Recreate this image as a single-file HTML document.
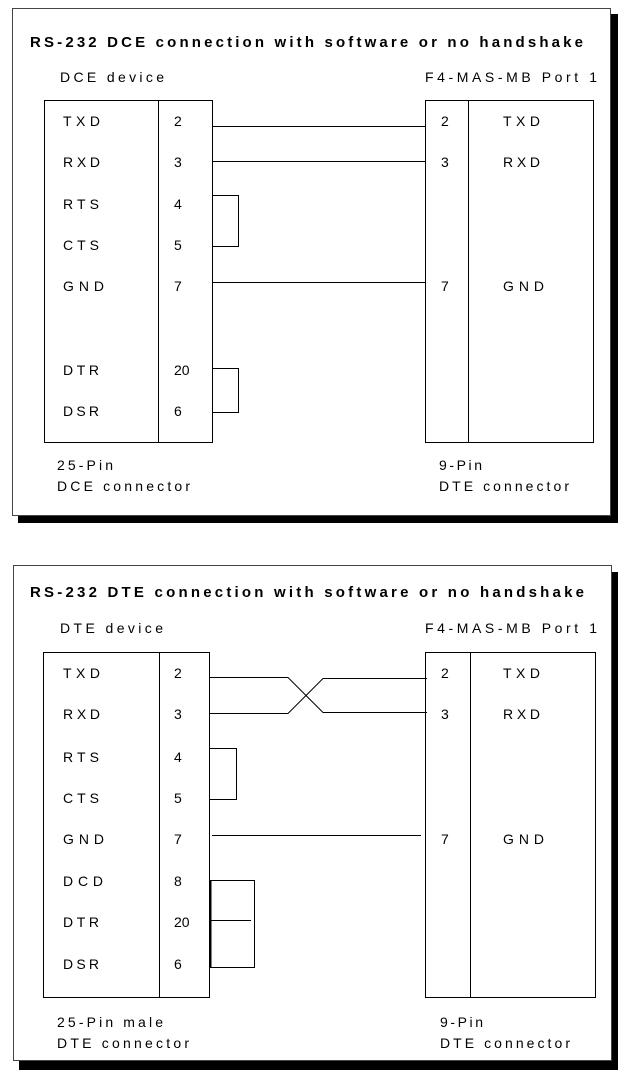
<!DOCTYPE html>
<html><head><meta charset="utf-8"><style>
html,body{margin:0;padding:0;background:#fff}
svg{display:block}
text{font-family:"Liberation Sans",Arial,sans-serif;font-size:14px;fill:#000}
.t{font-weight:bold;font-size:15px}
</style></head><body>
<svg width="623" height="1072" viewBox="0 0 623 1072" xmlns="http://www.w3.org/2000/svg">
<g fill="none" stroke="#000">
<rect x="18" y="14" width="600" height="509" fill="#000" stroke="none"/>
<rect x="12.5" y="8.5" width="598" height="507" fill="#fff" stroke="#444"/>
<rect x="44.5" y="100.5" width="168" height="342"/>
<line x1="158.5" y1="100" x2="158.5" y2="442"/>
<rect x="425.5" y="100.5" width="168" height="342"/>
<line x1="468.5" y1="100" x2="468.5" y2="442"/>
<line x1="212" y1="126.5" x2="425" y2="126.5"/>
<line x1="212" y1="161.5" x2="425" y2="161.5"/>
<line x1="212" y1="282.5" x2="425" y2="282.5"/>
<polyline points="212,195.5 238.5,195.5 238.5,246.5 212,246.5"/>
<polyline points="212,368.5 238.5,368.5 238.5,412.5 212,412.5"/>
<rect x="19" y="572" width="599" height="498" fill="#000" stroke="none"/>
<rect x="13.5" y="565.5" width="598" height="495" fill="#fff" stroke="#444"/>
<rect x="43.5" y="652.5" width="166" height="345"/>
<line x1="159.5" y1="652" x2="159.5" y2="997"/>
<rect x="425.5" y="652.5" width="170" height="345"/>
<line x1="470.5" y1="652" x2="470.5" y2="997"/>
<polyline points="210,677.5 288,677.5 323,712.5 427,712.5"/>
<polyline points="210,713.5 288,713.5 323,678.5 427,678.5"/>
<line x1="212" y1="835.5" x2="421" y2="835.5"/>
<polyline points="210,748.5 236.5,748.5 236.5,799.5 210,799.5"/>
<polyline points="210,880.5 254.5,880.5 254.5,967.5 210,967.5"/>
<line x1="210.5" y1="880" x2="210.5" y2="968" stroke-width="2"/>
<line x1="210" y1="920.5" x2="251" y2="920.5"/>
</g>
<text class="t" x="30" y="47" textLength="553" lengthAdjust="spacing">RS-232 DCE connection with software or no handshake</text>
<text x="60" y="82" textLength="104" lengthAdjust="spacing">DCE device</text>
<text x="425" y="82" textLength="172" lengthAdjust="spacing">F4-MAS-MB  Port 1</text>
<text x="63" y="126" textLength="37" lengthAdjust="spacing">TXD</text><text x="174" y="126">2</text>
<text x="63" y="167" textLength="37" lengthAdjust="spacing">RXD</text><text x="174" y="167">3</text>
<text x="63" y="209" textLength="36" lengthAdjust="spacing">RTS</text><text x="174" y="209">4</text>
<text x="63" y="250" textLength="36" lengthAdjust="spacing">CTS</text><text x="174" y="250">5</text>
<text x="63" y="291" textLength="41" lengthAdjust="spacing">GND</text><text x="174" y="291">7</text>
<text x="63" y="375" textLength="36" lengthAdjust="spacing">DTR</text><text x="174" y="375">20</text>
<text x="63" y="416" textLength="36" lengthAdjust="spacing">DSR</text><text x="174" y="416">6</text>
<text x="441" y="126">2</text><text x="503" y="126" textLength="37" lengthAdjust="spacing">TXD</text>
<text x="441" y="167">3</text><text x="503" y="167" textLength="37" lengthAdjust="spacing">RXD</text>
<text x="441" y="291">7</text><text x="503" y="291" textLength="41" lengthAdjust="spacing">GND</text>
<text x="57" y="470" textLength="56" lengthAdjust="spacing">25-Pin</text><text x="57" y="491" textLength="133" lengthAdjust="spacing">DCE connector</text>
<text x="439" y="470" textLength="43" lengthAdjust="spacing">9-Pin</text><text x="439" y="491" textLength="130" lengthAdjust="spacing">DTE connector</text>
<text class="t" x="30" y="597" textLength="554" lengthAdjust="spacing">RS-232 DTE connection with software or no handshake</text>
<text x="60" y="633" textLength="103" lengthAdjust="spacing">DTE device</text>
<text x="425" y="633" textLength="172" lengthAdjust="spacing">F4-MAS-MB  Port 1</text>
<text x="63" y="678" textLength="37" lengthAdjust="spacing">TXD</text><text x="174" y="678">2</text>
<text x="63" y="719" textLength="37" lengthAdjust="spacing">RXD</text><text x="174" y="719">3</text>
<text x="63" y="762" textLength="36" lengthAdjust="spacing">RTS</text><text x="174" y="762">4</text>
<text x="63" y="803" textLength="36" lengthAdjust="spacing">CTS</text><text x="174" y="803">5</text>
<text x="63" y="844" textLength="41" lengthAdjust="spacing">GND</text><text x="174" y="844">7</text>
<text x="63" y="886" textLength="40" lengthAdjust="spacing">DCD</text><text x="174" y="886">8</text>
<text x="63" y="927" textLength="36" lengthAdjust="spacing">DTR</text><text x="174" y="927">20</text>
<text x="63" y="969" textLength="36" lengthAdjust="spacing">DSR</text><text x="174" y="969">6</text>
<text x="441" y="678">2</text><text x="503" y="678" textLength="37" lengthAdjust="spacing">TXD</text>
<text x="441" y="719">3</text><text x="503" y="719" textLength="37" lengthAdjust="spacing">RXD</text>
<text x="441" y="844">7</text><text x="503" y="844" textLength="41" lengthAdjust="spacing">GND</text>
<text x="57" y="1027" textLength="106" lengthAdjust="spacing">25-Pin male</text><text x="57" y="1048" textLength="132" lengthAdjust="spacing">DTE connector</text>
<text x="440" y="1027" textLength="43" lengthAdjust="spacing">9-Pin</text><text x="440" y="1048" textLength="130" lengthAdjust="spacing">DTE connector</text>
</svg>
</body></html>
